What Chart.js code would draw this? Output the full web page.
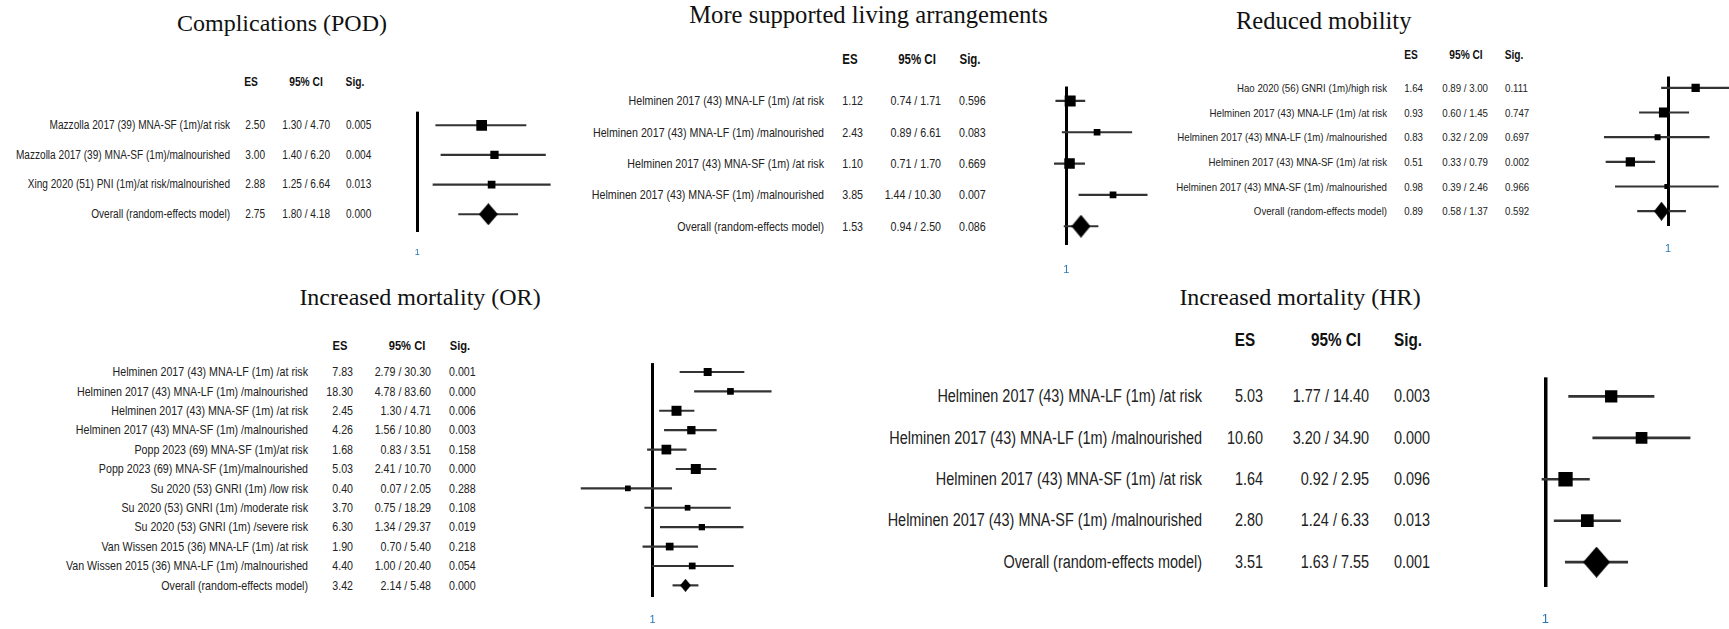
<!DOCTYPE html>
<html><head><meta charset="utf-8">
<script src="https://cdn.jsdelivr.net/npm/chart.js@4.4.1/dist/chart.umd.min.js"></script>
<style>
html,body{margin:0;padding:0;background:#fff;}
#root{position:relative;width:1729px;height:629px;overflow:hidden;background:#fff;}
.t{position:absolute;white-space:nowrap;color:#222;}
.title{position:absolute;white-space:nowrap;color:#111;font-family:"Liberation Serif","Times New Roman",serif;}
canvas{position:absolute;}
</style></head>
<body><div id="root"></div>
<script>
// ---------------- DATA ----------------
const headers = ['ES', '95% CI', 'Sig.'];
const refTicks = [1];

const compTitle = 'Complications (POD)';
const compLabels = ['Mazzolla 2017 (39) MNA-SF (1m)/at risk', 'Mazzolla 2017 (39) MNA-SF (1m)/malnourished', 'Xing 2020 (51) PNI (1m)/at risk/malnourished', 'Overall (random-effects model)'];
const compES = [2.50, 3.00, 2.88, 2.75];
const compLow = [1.30, 1.40, 1.25, 1.80];
const compHigh = [4.70, 6.20, 6.64, 4.18];
const compSig = [0.005, 0.004, 0.013, 0.000];

const livTitle = 'More supported living arrangements';
const livLabels = ['Helminen 2017 (43) MNA-LF (1m) /at risk', 'Helminen 2017 (43) MNA-LF (1m) /malnourished', 'Helminen 2017 (43) MNA-SF (1m) /at risk', 'Helminen 2017 (43) MNA-SF (1m) /malnourished', 'Overall (random-effects model)'];
const livES = [1.12, 2.43, 1.10, 3.85, 1.53];
const livLow = [0.74, 0.89, 0.71, 1.44, 0.94];
const livHigh = [1.71, 6.61, 1.70, 10.30, 2.50];
const livSig = [0.596, 0.083, 0.669, 0.007, 0.086];

const mobTitle = 'Reduced mobility';
const mobLabels = ['Hao 2020 (56) GNRI (1m)/high risk', 'Helminen 2017 (43) MNA-LF (1m) /at risk', 'Helminen 2017 (43) MNA-LF (1m) /malnourished', 'Helminen 2017 (43) MNA-SF (1m) /at risk', 'Helminen 2017 (43) MNA-SF (1m) /malnourished', 'Overall (random-effects model)'];
const mobES = [1.64, 0.93, 0.83, 0.51, 0.98, 0.89];
const mobLow = [0.89, 0.60, 0.32, 0.33, 0.39, 0.58];
const mobHigh = [3.00, 1.45, 2.09, 0.79, 2.46, 1.37];
const mobSig = [0.111, 0.747, 0.697, 0.002, 0.966, 0.592];

const orTitle = 'Increased mortality (OR)';
const orLabels = ['Helminen 2017 (43) MNA-LF (1m) /at risk', 'Helminen 2017 (43) MNA-LF (1m) /malnourished', 'Helminen 2017 (43) MNA-SF (1m) /at risk', 'Helminen 2017 (43) MNA-SF (1m) /malnourished', 'Popp 2023 (69) MNA-SF (1m)/at risk', 'Popp 2023 (69) MNA-SF (1m)/malnourished', 'Su 2020 (53) GNRI (1m) /low risk', 'Su 2020 (53) GNRI (1m) /moderate risk', 'Su 2020 (53) GNRI (1m) /severe risk', 'Van Wissen 2015 (36) MNA-LF (1m) /at risk', 'Van Wissen 2015 (36) MNA-LF (1m) /malnourished', 'Overall (random-effects model)'];
const orES = [7.83, 18.30, 2.45, 4.26, 1.68, 5.03, 0.40, 3.70, 6.30, 1.90, 4.40, 3.42];
const orLow = [2.79, 4.78, 1.30, 1.56, 0.83, 2.41, 0.07, 0.75, 1.34, 0.70, 1.00, 2.14];
const orHigh = [30.30, 83.60, 4.71, 10.80, 3.51, 10.70, 2.05, 18.29, 29.37, 5.40, 20.40, 5.48];
const orSig = [0.001, 0.000, 0.006, 0.003, 0.158, 0.000, 0.288, 0.108, 0.019, 0.218, 0.054, 0.000];

const hrTitle = 'Increased mortality (HR)';
const hrLabels = ['Helminen 2017 (43) MNA-LF (1m) /at risk', 'Helminen 2017 (43) MNA-LF (1m) /malnourished', 'Helminen 2017 (43) MNA-SF (1m) /at risk', 'Helminen 2017 (43) MNA-SF (1m) /malnourished', 'Overall (random-effects model)'];
const hrES = [5.03, 10.60, 1.64, 2.80, 3.51];
const hrLow = [1.77, 3.20, 0.92, 1.24, 1.63];
const hrHigh = [14.40, 34.90, 2.95, 6.33, 7.55];
const hrSig = [0.003, 0.000, 0.096, 0.013, 0.001];

// ---------------- LAYOUT / STYLE ----------------
const layouts = {
  comp: {titleX:282, titleBase:31, titleSize:24, headY:82, headSize:12.5, esC:251, ciC:306, sigC:355,
         txtSize:12.3, labR:230, esR:265, ciR:330, sigL:346,
         x1:409, k:180.5, min:0.8, max:8, top:102, bot:232, tickSize:9, tickPad:15, whisker:1.5, ref:3,
         box:[10.7, 8.3, 7.7], dia:[19.3, 22.3]},
  liv:  {titleX:868.5, titleBase:24, titleSize:24.6, headY:59.3, headSize:14, esC:849.5, ciC:917, sigC:970,
         txtSize:13, labR:824, esR:862.7, ciR:940.7, sigL:959.3,
         x1:1060, k:94.4, min:0.6, max:12, top:77.3, bot:245, tickSize:11, tickPad:18, whisker:1.5, ref:3,
         box:[11, 6.7, 10.5, 6.7], dia:[19, 23.3]},
  mob:  {titleX:1323.7, titleBase:29.3, titleSize:24.6, headY:55, headSize:12.4, esC:1410.7, ciC:1466, sigC:1514,
         txtSize:11.8, labR:1387.3, esR:1422.7, ciR:1488, sigL:1505,
         x1:1668, k:141, min:0.25, max:4, top:69.3, bot:226, tickSize:11, tickPad:16.7, whisker:1.5, ref:3,
         box:[8.3, 10, 6, 9.3, 5], dia:[15, 19]},
  or:   {titleX:420, titleBase:305, titleSize:24, headY:346, headSize:13.6, esC:340, ciC:406.7, sigC:460,
         txtSize:13, labR:308.3, esR:353.3, ciR:430.5, sigL:449.3,
         x1:651.3, k:66, min:0.05, max:120, top:356, bot:597.3, tickSize:11, tickPad:16.8, whisker:1.5, ref:3,
         box:[8, 6.7, 10, 8.3, 9.7, 10, 5.7, 5.7, 6.3, 7.7, 6.7], dia:[10.7, 13.3]},
  hr:   {titleX:1300, titleBase:305, titleSize:24, headY:340, headSize:18.6, esC:1245, ciC:1335.7, sigC:1408,
         txtSize:17.6, labR:1201.7, esR:1262.7, ciR:1369, sigL:1394,
         x1:1526.5, k:113.5, min:0.8, max:40, top:364.3, bot:587.7, tickSize:13, tickPad:25, whisker:2, ref:3.5,
         box:[12.3, 11.7, 14.3, 12.7], dia:[26.7, 31]}
};

const panels = [
  {title:compTitle, labels:compLabels, es:compES, lo:compLow, hi:compHigh, sig:compSig, L:layouts.comp},
  {title:livTitle, labels:livLabels, es:livES, lo:livLow, hi:livHigh, sig:livSig, L:layouts.liv},
  {title:mobTitle, labels:mobLabels, es:mobES, lo:mobLow, hi:mobHigh, sig:mobSig, L:layouts.mob},
  {title:orTitle, labels:orLabels, es:orES, lo:orLow, hi:orHigh, sig:orSig, L:layouts.or},
  {title:hrTitle, labels:hrLabels, es:hrES, lo:hrLow, hi:hrHigh, sig:hrSig, L:layouts.hr}
];

// ---------------- RENDER ----------------
const root = document.getElementById('root');

function hasFont(name){
  const c = document.createElement('canvas').getContext('2d');
  const s = 'Helminen 2017 (43) MNA-LF wwmmii';
  c.font = '20px monospace'; const a = c.measureText(s).width;
  c.font = '20px "' + name + '", monospace'; const b = c.measureText(s).width;
  return Math.abs(a - b) > 0.5;
}
const NARROW = hasFont('Liberation Sans Narrow');
const NFAM = NARROW ? '"Liberation Sans Narrow", "Liberation Sans", Arial, sans-serif' : '"Liberation Sans", Arial, sans-serif';
const NSCALE = NARROW ? 1 : 0.82;

function addText(s, x, y, size, align, bold){
  const d = document.createElement('div');
  d.className = 't';
  d.textContent = s;
  d.style.fontFamily = NFAM;
  d.style.fontSize = size + 'px';
  d.style.lineHeight = (size * 1.2) + 'px';
  d.style.fontWeight = bold ? 'bold' : 'normal';
  if (bold) d.style.color = '#111';
  d.style.top = (y - 0.6 * size) + 'px';
  d.style.left = x + 'px';
  if (align === 'right') { d.style.transformOrigin = 'right center'; d.style.transform = 'translateX(-100%) scaleX(' + NSCALE + ')'; }
  else if (align === 'center') { d.style.transformOrigin = 'center center'; d.style.transform = 'translateX(-50%) scaleX(' + NSCALE + ')'; }
  else { d.style.transformOrigin = 'left center'; d.style.transform = 'scaleX(' + NSCALE + ')'; }
  root.appendChild(d);
}

function addTitle(s, x, base, size){
  const d = document.createElement('div');
  d.className = 'title';
  d.textContent = s;
  d.style.fontSize = size + 'px';
  d.style.lineHeight = size + 'px';
  d.style.top = (base - 0.8375 * size) + 'px';
  d.style.left = x + 'px';
  d.style.transform = 'translateX(-50%)';
  root.appendChild(d);
}

function diamond(w, h){
  const c = document.createElement('canvas');
  c.width = Math.round(w); c.height = Math.round(h);
  const g = c.getContext('2d');
  g.fillStyle = '#000';
  g.beginPath();
  g.moveTo(c.width / 2, 0); g.lineTo(c.width, c.height / 2);
  g.lineTo(c.width / 2, c.height); g.lineTo(0, c.height / 2);
  g.closePath(); g.fill();
  return c;
}

function buildPanel(p){
  const L = p.L, n = p.labels.length;
  addTitle(p.title, L.titleX, L.titleBase, L.titleSize);
  addText(headers[0], L.esC, L.headY, L.headSize, 'center', true);
  addText(headers[1], L.ciC, L.headY, L.headSize, 'center', true);
  addText(headers[2], L.sigC, L.headY, L.headSize, 'center', true);

  const axisH = Math.round(L.tickPad + L.tickSize * 1.2 + 6);
  const left = L.x1 + L.k * Math.log10(L.min);
  const width = Math.round(L.k * Math.log10(L.max / L.min));
  const areaH = L.bot - L.top;
  const cv = document.createElement('canvas');
  cv.width = width; cv.height = Math.round(areaH + axisH);
  cv.style.left = left + 'px'; cv.style.top = L.top + 'px';
  cv.style.width = width + 'px'; cv.style.height = cv.height + 'px';
  root.appendChild(cv);

  const styles = p.es.map((v, i) => i === n - 1 ? diamond(L.dia[0], L.dia[1]) : 'rect');
  const radii = p.es.map((v, i) => i === n - 1 ? L.dia[0] / 2 : L.box[i] / Math.SQRT2);

  const chart = new Chart(cv, {
    type: 'bar',
    data: {
      datasets: [
        { type: 'scatter', data: p.es.map((v, i) => ({x: v, y: i})),
          pointStyle: styles, pointRadius: radii, backgroundColor: '#000', borderWidth: 0, order: 0 },
        { type: 'bar', indexAxis: 'y', data: p.lo.map((v, i) => ({x: [v, p.hi[i]], y: i})),
          backgroundColor: '#333', borderWidth: 0, barThickness: L.whisker, grouped: false, order: 1 }
      ]
    },
    options: {
      responsive: false, animation: false, devicePixelRatio: 1, events: [],
      layout: { padding: 0 },
      plugins: { legend: { display: false }, tooltip: { enabled: false } },
      scales: {
        x: {
          type: 'logarithmic', position: 'bottom', min: L.min, max: L.max, bounds: 'data', beginAtZero: false, offset: false,
          afterBuildTicks: s => { s.ticks = refTicks.map(v => ({value: v})); },
          afterFit: s => { s.height = axisH; },
          grid: { color: '#000', lineWidth: L.ref, drawTicks: false, offset: false },
          border: { display: false },
          ticks: { color: '#2a78b6', padding: L.tickPad, autoSkip: false, maxRotation: 0,
                   font: { family: 'Liberation Sans', size: L.tickSize },
                   callback: v => String(v) }
        },
        y: { type: 'linear', reverse: true, min: -0.46, max: n - 0.4, display: false, offset: false, grid: { offset: false } }
      }
    }
  });

  for (let i = 0; i < n; i++) {
    const y = L.top + chart.scales.y.getPixelForValue(i);
    addText(p.labels[i], L.labR, y, L.txtSize, 'right');
    addText(p.es[i].toFixed(2), L.esR, y, L.txtSize, 'right');
    addText(p.lo[i].toFixed(2) + ' / ' + p.hi[i].toFixed(2), L.ciR, y, L.txtSize, 'right');
    addText(p.sig[i].toFixed(3), L.sigL, y, L.txtSize, 'left');
  }
}

panels.forEach(buildPanel);
</script>
</body></html>
